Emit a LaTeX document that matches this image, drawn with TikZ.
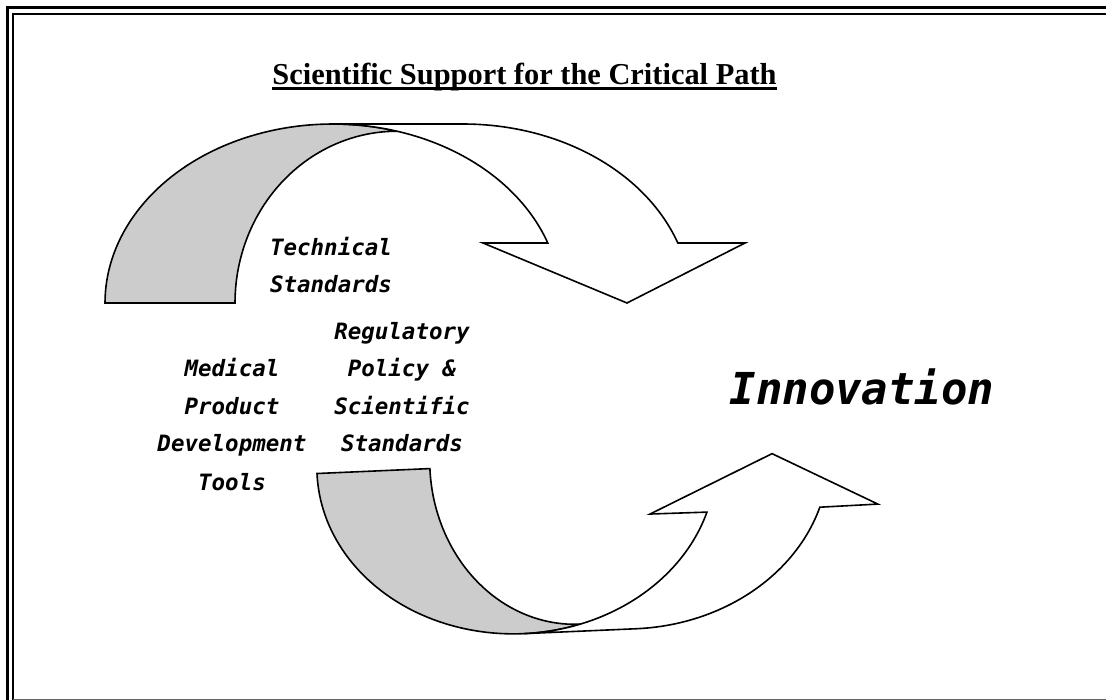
\documentclass[tikz,border=0pt]{standalone}
\usepackage{fontspec}
\setmainfont{Liberation Serif}
\newfontfamily\lblfont{DejaVu Sans Mono Bold Oblique}
\begin{document}
\begin{tikzpicture}[x=1pt,y=-1pt,
  ribbon/.style={draw=black, line width=1.6pt, line join=miter},
  backpart/.style={ribbon, fill=gray!40},
  frontpart/.style={ribbon, fill=white},
  lbl/.style={font=\lblfont\fontsize{22.5}{27}\selectfont, anchor=base, inner sep=0pt},
  bigl/.style={font=\lblfont\fontsize{44}{50}\selectfont, anchor=base, inner sep=0pt},
  ttl/.style={font=\bfseries\fontsize{30.4}{36}\selectfont, anchor=base, inner sep=0pt}]
\useasboundingbox (0,0) rectangle (1106,700);
\clip (0,0) rectangle (1106,700);
% frame
\draw[line width=3pt] (7.5,720) -- (7.5,8) -- (1120,8);
\draw[line width=2pt] (13,720) -- (13,14) -- (1120,14);
\draw[line width=1.5pt, black!60] (13,699.3) -- (1120,699.3);
% title
\node[ttl] (title) at (524.5,85) {Scientific Support for the Critical Path};
\draw[line width=3pt] ([yshift=-4pt]title.base west) -- ([yshift=-4pt]title.base east);
% upper curved arrow
\path[backpart] plot[domain=180:286.3, samples=60] ({333+228*cos(\x)},{303+179*sin(\x)})
  -- plot[domain=270:180, samples=50] ({397+162*cos(\x)},{303+171.8*sin(\x)}) -- cycle;
\path[frontpart] (333,124) -- (463,124)
  -- plot[domain=270:340.4, samples=50] ({463+228*cos(\x)},{303+179*sin(\x)})
  -- (745,243) -- (627,303) -- (483,243)
  -- plot[domain=340.4:270, samples=50] ({333+228*cos(\x)},{303+179*sin(\x)}) -- cycle;
% lower curved arrow
\begin{scope}[rotate around={2.5:(560,560)}]
\path[backpart] plot[domain=180:73.5, samples=60] ({520.5+199.5*cos(\x)},{463+169*sin(\x)})
  -- plot[domain=90:180, samples=50] ({577.2+143.2*cos(\x)},{463+162*sin(\x)}) -- cycle;
\path[frontpart] (520.5,632) -- (633.5,632)
  -- plot[domain=90:19.2, samples=50] ({633.5+199.5*cos(\x)},{463+169*sin(\x)})
  -- (880,518) -- (776.5,463) -- (652,518)
  -- plot[domain=19.2:90, samples=50] ({520.5+199.5*cos(\x)},{463+169*sin(\x)}) -- cycle;
\end{scope}
% labels
\node[lbl] (tech1) at (331,256) {Technical};
\node[lbl] (tech2) at (331,293) {Standards};
\node[lbl] (reg1) at (402,340) {Regulatory};
\node[lbl] (reg2) at (402,377) {Policy \&};
\node[lbl] (reg3) at (402,415) {Scientific};
\node[lbl] (reg4) at (402,452) {Standards};
\node[lbl] (med1) at (232,377) {Medical};
\node[lbl] (med2) at (232,415) {Product};
\node[lbl] (med3) at (232,452) {Development};
\node[lbl] (med4) at (232,490) {Tools};
\node[bigl] (innov) at (862,405) {Innovation};
\end{tikzpicture}
\end{document}
